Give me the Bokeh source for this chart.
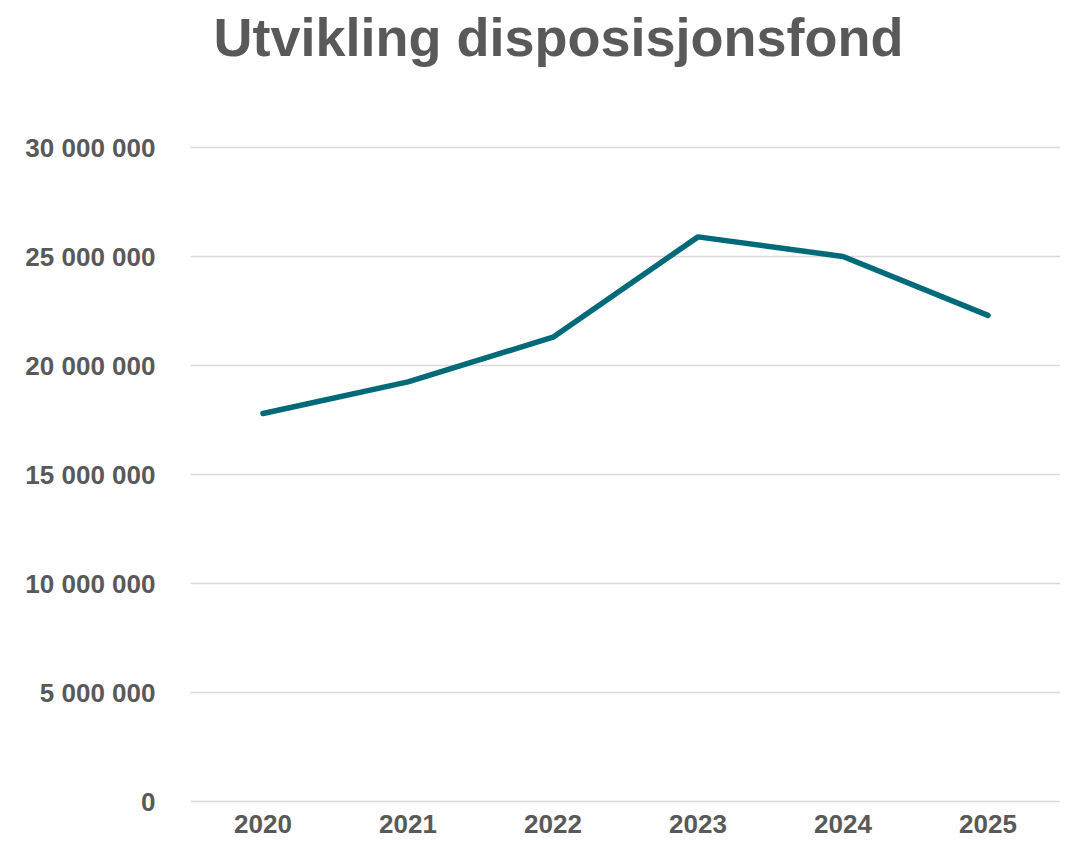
from bokeh.plotting import figure
from bokeh.models import Range1d, FixedTicker, Title
from bokeh.embed import file_html
from bokeh.resources import INLINE

years = ["2020", "2021", "2022", "2023", "2024", "2025"]
values = [17800000, 19250000, 21300000, 25900000, 25000000, 22300000]
y_ticks = [0, 5000000, 10000000, 15000000, 20000000, 25000000, 30000000]
y_tick_labels = ["0", "5 000 000", "10 000 000", "15 000 000", "20 000 000", "25 000 000", "30 000 000"]
title_text = "Utvikling disposisjonsfond"

TEXT = "#595959"
LINE = "#006A78"
GRID = "#D9D9D9"

# small padding so the 0 and 30 000 000 gridlines are not clipped at the frame edge
pad = 30000000 * 2 / 654.0

p = figure(x_range=years, y_range=Range1d(-pad, 30000000 + pad),
           frame_width=870, frame_height=658,
           min_border_left=190, min_border_right=0, min_border_top=145, min_border_bottom=37,
           output_backend="svg", toolbar_location=None)

p.line(x=years, y=values, line_color=LINE, line_width=5.5, line_join="round", line_cap="round")

# invisible spacer title next to the frame, pushes the real title upward
spacer = Title(text=" ", text_font_size="10px", text_color="white", standoff=66)
p.add_layout(spacer, "above")

main_title = Title(text=title_text, text_font="Liberation Sans", text_font_style="bold",
                   text_font_size="54px", text_color=TEXT, align="left", offset=23, standoff=0)
p.add_layout(main_title, "above")

p.outline_line_color = None
p.background_fill_color = "white"
p.border_fill_color = "white"

p.xgrid.grid_line_color = None
p.ygrid.grid_line_color = GRID
p.ygrid.grid_line_width = 1.5

p.yaxis.ticker = FixedTicker(ticks=y_ticks)
p.yaxis.major_label_overrides = {t: l for t, l in zip(y_ticks, y_tick_labels)}

for ax in (p.xaxis[0], p.yaxis[0]):
    ax.axis_line_color = None
    ax.major_tick_line_color = None
    ax.minor_tick_line_color = None
    ax.major_label_text_color = TEXT
    ax.major_label_text_font = "Liberation Sans"
    ax.major_label_text_font_style = "bold"
    ax.major_label_text_font_size = "26px"

p.yaxis.major_label_standoff = 29
p.xaxis.major_label_standoff = 5

open("out.html", "w").write(file_html(p, INLINE))
